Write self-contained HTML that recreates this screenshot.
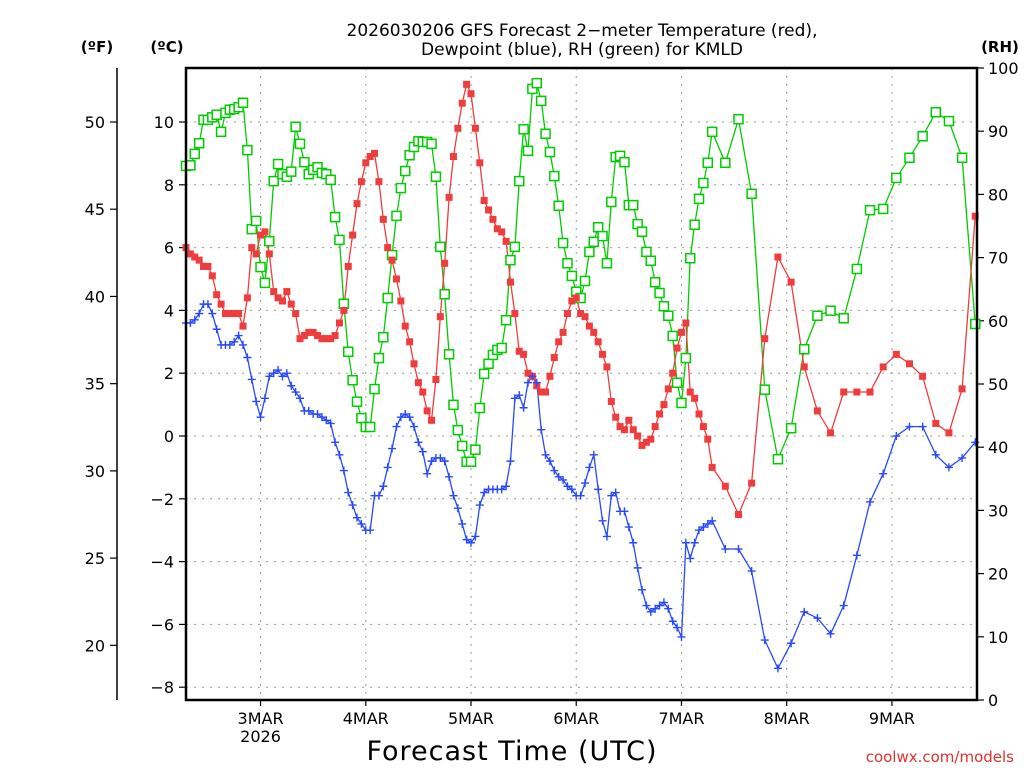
<!DOCTYPE html>
<html><head><meta charset="utf-8"><style>
html,body{margin:0;padding:0;background:#fff;width:1024px;height:768px;overflow:hidden}
svg text{font-family:"DejaVu Sans","Liberation Sans",sans-serif}
</style></head><body>
<svg id="chart" width="1024" height="768" viewBox="0 0 1024 768" xmlns="http://www.w3.org/2000/svg">
<text x="582" y="36" font-size="17" text-anchor="middle">2026030206 GFS Forecast 2−meter Temperature (red),</text>
<text x="582" y="55" font-size="17" text-anchor="middle">Dewpoint (blue), RH (green) for KMLD</text>
<text x="97" y="52" font-size="15" font-weight="bold" text-anchor="middle">(ºF)</text>
<text x="167" y="52" font-size="15" font-weight="bold" text-anchor="middle">(ºC)</text>
<text x="1000" y="52" font-size="15" font-weight="bold" text-anchor="middle">(RH)</text>
<text x="512" y="760" font-size="27" text-anchor="middle" letter-spacing="1">Forecast Time (UTC)</text>
<text x="1014" y="762" font-size="15" fill="#e03030" text-anchor="end">coolwx.com/models</text>
<g id="grid"></g>
<g id="axes"></g>
<g id="series"></g>
<rect x="186" y="68" width="791" height="632" fill="none" stroke="#000" stroke-width="2.5"/>
</svg>
<script>
// hours from 2026-03-03 00Z
const hourlyStart = -17, hourlyEnd = 102, threeHourlyStart = 103, threeHourlyEnd = 163;
const dayLabels = ["3MAR","4MAR","5MAR","6MAR","7MAR","8MAR","9MAR"];
const celsiusTicks = [-8,-6,-4,-2,0,2,4,6,8,10];
const fahrenheitTicks = [20,25,30,35,40,45,50];
const rhTicks = [0,10,20,30,40,50,60,70,80,90,100];
const temperature = [6.0,5.8,5.7,5.6,5.4,5.4,5.1,4.5,4.2,3.9,3.9,3.9,3.9,3.5,4.4,6.0,5.8,
6.4,6.5,5.8,4.6,4.4,4.3,4.6,4.2,3.9,3.1,3.2,3.3,3.3,3.2,3.1,3.1,3.1,3.2,3.6,4.0,5.4,6.4,7.4,8.1,
8.7,8.9,9.0,8.1,6.9,6.0,5.6,5.0,4.3,3.5,3.0,2.3,1.7,1.4,0.8,0.5,1.8,3.8,5.5,7.6,8.9,9.8,10.6,11.2,
10.9,9.8,8.7,7.5,7.2,6.9,6.6,6.5,6.2,4.9,3.9,2.7,2.6,2.0,1.9,1.6,1.4,1.4,1.9,2.5,3.0,3.3,3.9,4.3,
4.4,3.9,3.8,3.5,3.3,3.0,2.6,2.2,1.1,0.6,0.3,0.2,0.5,0.2,0.0,-0.3,-0.2,-0.1,0.3,0.7,1.0,1.5,2.0,2.8,
3.3,3.6,1.4,1.2,0.7,0.3,-0.1,
-1.0,-1.6,-2.5,-1.5,3.1,5.7,4.9,2.2,0.8,0.1,1.4,1.4,1.4,2.2,2.6,2.3,1.9,0.4,0.1,1.5,7.0];
const dewpoint = [3.6,3.6,3.7,3.9,4.2,4.2,3.9,3.4,2.9,2.9,2.9,3.0,3.2,2.9,2.5,1.8,1.1,
0.6,1.2,1.9,2.0,2.1,1.9,2.0,1.6,1.4,1.2,0.8,0.8,0.7,0.7,0.6,0.5,0.4,-0.2,-0.6,-1.1,-1.8,-2.2,-2.6,-2.8,
-3.0,-3.0,-1.9,-1.9,-1.6,-1.0,-0.4,0.3,0.6,0.7,0.6,0.3,-0.2,-0.5,-1.2,-0.8,-0.7,-0.7,-0.8,-1.3,-1.9,-2.3,-2.8,-3.3,
-3.4,-3.2,-2.2,-1.8,-1.7,-1.7,-1.7,-1.7,-1.6,-0.8,1.2,1.3,0.9,1.7,1.9,1.7,0.2,-0.6,-0.8,-1.1,-1.3,-1.4,-1.6,-1.7,
-1.9,-1.9,-1.5,-1.0,-0.6,-1.7,-2.7,-3.2,-1.9,-1.8,-2.4,-2.4,-2.9,-3.4,-4.2,-4.9,-5.4,-5.6,-5.5,-5.4,-5.3,-5.5,-5.9,-6.1,
-6.4,-3.4,-3.9,-3.4,-3.0,-2.9,-2.8,
-2.7,-3.6,-3.6,-4.3,-6.5,-7.4,-6.6,-5.6,-5.8,-6.3,-5.4,-3.8,-2.1,-1.2,0.0,0.3,0.3,-0.6,-1.0,-0.7,-0.2];
const relHumidity = [84.5,84.6,86.4,88.1,91.8,91.8,92.2,92.6,89.9,92.9,93.4,93.5,93.8,94.5,87.0,74.5,75.8,
68.5,66.0,72.6,82.1,84.8,83.2,82.8,83.6,90.7,88.0,85.1,83.2,83.9,84.3,83.4,83.2,82.3,76.4,72.8,62.7,55.1,50.6,47.2,44.6,
43.2,43.2,49.2,54.1,57.4,63.6,70.4,76.6,81.0,83.7,86.2,87.5,88.4,88.3,88.3,88.0,82.8,71.7,64.2,54.7,46.7,42.7,40.2,37.7,
37.7,39.6,46.2,51.6,53.2,54.6,55.4,55.7,60.1,69.6,71.7,82.1,90.3,86.9,96.7,97.6,94.8,89.6,86.7,82.9,78.2,72.3,69.1,67.1,
64.6,63.6,66.3,70.9,72.5,74.8,73.4,69.1,78.8,85.9,86.1,85.1,78.3,78.3,75.3,74.1,70.9,69.5,66.1,64.4,62.3,60.8,57.6,50.2,
47.0,54.1,69.9,75.2,79.3,81.8,85.0,
89.9,85.0,91.9,80.1,49.1,38.1,43.0,55.5,60.8,61.6,60.4,68.2,77.5,77.7,82.6,85.8,89.2,93.0,91.6,85.8,59.5];

const hours = [];
for (let h = hourlyStart; h <= hourlyEnd; h++) hours.push(h);
for (let h = threeHourlyStart; h <= threeHourlyEnd; h += 3) hours.push(h);

const X0=186, X1=977, Y0=68, Y1=700, H0=-17, H1=163.4;
const xOf = h => X0 + (h - H0) / (H1 - H0) * (X1 - X0);
const cOf = c => 436 - c * 31.4;
const fOf = f => cOf((f - 32) / 1.8);
const rOf = r => Y1 - r / 100 * (Y1 - Y0);
const NS = "http://www.w3.org/2000/svg";
function mk(tag, attrs, parent) { const e = document.createElementNS(NS, tag); for (const k in attrs) e.setAttribute(k, attrs[k]); parent.appendChild(e); return e; }
const grid = document.getElementById('grid'), axes = document.getElementById('axes'), series = document.getElementById('series');

celsiusTicks.forEach(c => {
  const y = cOf(c);
  const g = mk('line', {x1:X0,x2:X1,y1:y,y2:y,stroke:'#999','stroke-dasharray':'2,6','stroke-width':1}, grid);
  
  
  mk('line', {x1:X0-7,x2:X0,y1:y,y2:y,stroke:'#000','stroke-width':1.2}, axes);
  const t = mk('text', {x:X0-12,y:y+6,'font-size':16,'text-anchor':'end'}, axes);
  t.textContent = c < 0 ? '−' + Math.abs(c) : String(c);
  
  
});
mk('line', {x1:117,x2:117,y1:Y0,y2:Y1,stroke:'#000','stroke-width':1.5}, axes);
fahrenheitTicks.forEach(f => {
  const y = fOf(f);
  mk('line', {x1:110,x2:117,y1:y,y2:y,stroke:'#000','stroke-width':1.2}, axes);
  const t = mk('text', {x:105,y:y+6,'font-size':16,'text-anchor':'end'}, axes);
  t.textContent = String(f);
  
  
});
rhTicks.forEach(r => {
  const y = rOf(r);
  mk('line', {x1:X1,x2:X1+7,y1:y,y2:y,stroke:'#000','stroke-width':1.2}, axes);
  const t = mk('text', {x:988,y:y+6,'font-size':16,'text-anchor':'start'}, axes);
  t.textContent = String(r);
  
  
});
dayLabels.forEach((d, i) => {
  const x = xOf(i * 24);
  const g = mk('line', {x1:x,x2:x,y1:Y0,y2:Y1,stroke:'#999','stroke-dasharray':'2,6','stroke-width':1}, grid);
  
  
  mk('line', {x1:x,x2:x,y1:Y1,y2:Y1+6,stroke:'#000','stroke-width':1.2}, axes);
  const t = mk('text', {x:x,y:724,'font-size':16,'text-anchor':'middle'}, axes);
  t.textContent = d;
  
  
});
const yr = mk('text', {x:xOf(0),y:742,'font-size':16,'text-anchor':'middle'}, axes);
yr.textContent = '2026';



function drawLine(vals, yFn, color, name) {
  const pts = vals.map((v, i) => xOf(hours[i]).toFixed(1) + ',' + yFn(v).toFixed(1)).join(' ');
  const p = mk('polyline', {points:pts, fill:'none', stroke:color, 'stroke-width':1.3}, series);
  
  
}
drawLine(relHumidity, rOf, '#00cc00', 'rh-line');
drawLine(temperature, cOf, '#f03c3c', 'temperature-line');
drawLine(dewpoint, cOf, '#2848ff', 'dewpoint-line');
relHumidity.forEach((v, i) => {
  const m = mk('rect', {x:xOf(hours[i])-4.5,y:rOf(v)-4.5,width:9,height:9,fill:'#fff',stroke:'#00cc00','stroke-width':1.5}, series);
  
  
});
temperature.forEach((v, i) => {
  const m = mk('rect', {x:xOf(hours[i])-3.5,y:cOf(v)-3.5,width:7,height:7,fill:'#f03c3c'}, series);
  
  
});
dewpoint.forEach((v, i) => {
  const x = xOf(hours[i]), y = cOf(v);
  const m = mk('path', {d:`M${x-4},${y}H${x+4}M${x},${y-4}V${y+4}`,stroke:'#2848ff','stroke-width':1.4,fill:'none'}, series);
  
  
});
</script>
</body></html>
